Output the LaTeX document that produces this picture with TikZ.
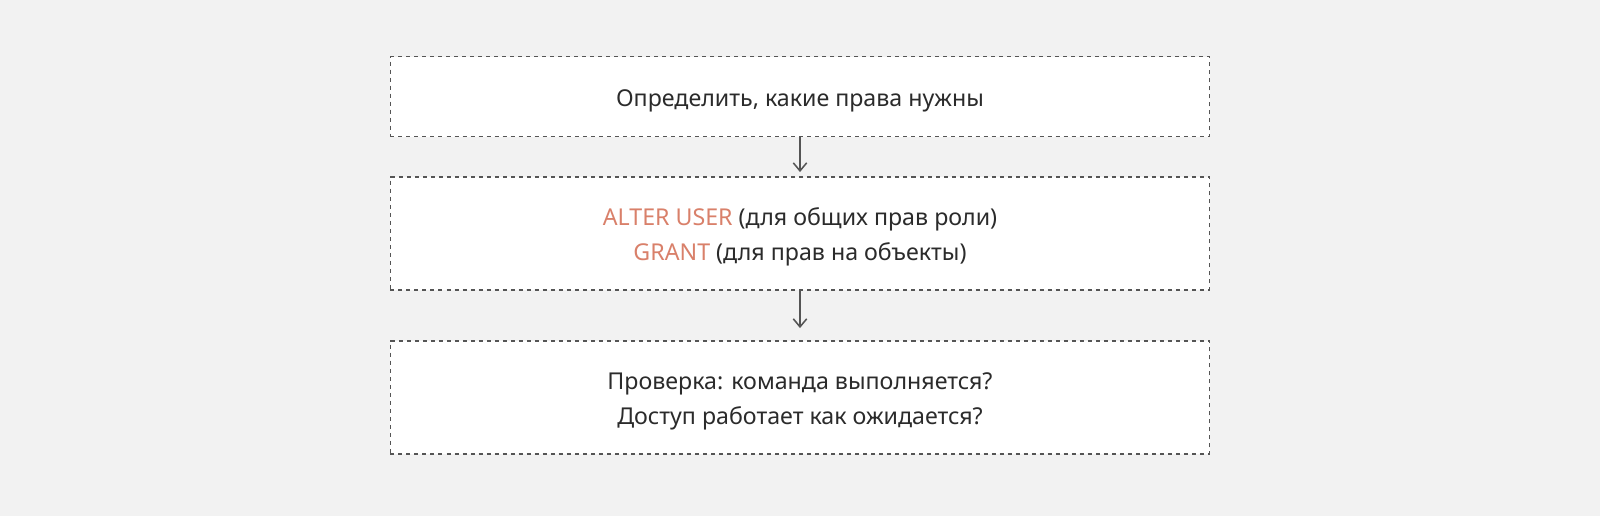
\documentclass[tikz,border=0pt]{standalone}
\usepackage{fontspec}
\setmainfont{Noto Sans}
\usetikzlibrary{arrows.meta}

\definecolor{bgcol}{HTML}{F2F2F2}
\definecolor{linecol}{HTML}{555555}
\definecolor{textcol}{HTML}{2B2B2B}
\definecolor{sqlcol}{HTML}{D9806A}

\tikzset{
  stepbox/.style={draw=linecol,fill=white,line width=1.1pt,
    dash pattern=on 2.85pt off 2.85pt,minimum width=20.475cm,
    inner sep=0pt,align=center,text=textcol,
    font=\fontsize{16.5}{24.5}\selectfont},
  flow/.style={draw=linecol,line width=1.1pt,
    -{Straight Barb[length=5.7pt,width=9.5pt,line width=1.1pt]}}
}
\newcommand{\sqlword}[1]{\textcolor{sqlcol}{#1}}
% same line box for every text, so it sits where the boxes want it
\newcommand{\linestrut}{\rule[-4pt]{0pt}{22pt}}

\begin{document}
\begin{tikzpicture}[x=0.025cm,y=-0.025cm]
	\fill[bgcol] (0,0) rectangle (1600,516);
	\useasboundingbox (0,0) rectangle (1600,516);
	
	\node[stepbox,minimum height=2cm] (need) at (800,96.7)
		{\linestrut Определить, какие права нужны};
	\node[stepbox,minimum height=2.825cm] (grant) at (800,233.3)
		{\linestrut\sqlword{ALTER USER} (для общих прав роли)\\
		 \sqlword{GRANT} (для прав на объекты)\linestrut};
	\node[stepbox,minimum height=2.825cm] (check) at (800,397.3)
		{\linestrut Проверка: команда выполняется?\\
		 Доступ работает как ожидается?\linestrut};
	
	\draw[flow,shorten >=2.8pt] (need) -- (grant);
	\draw[flow,shorten >=8.5pt] (grant) -- (check);
\end{tikzpicture}
\end{document}
